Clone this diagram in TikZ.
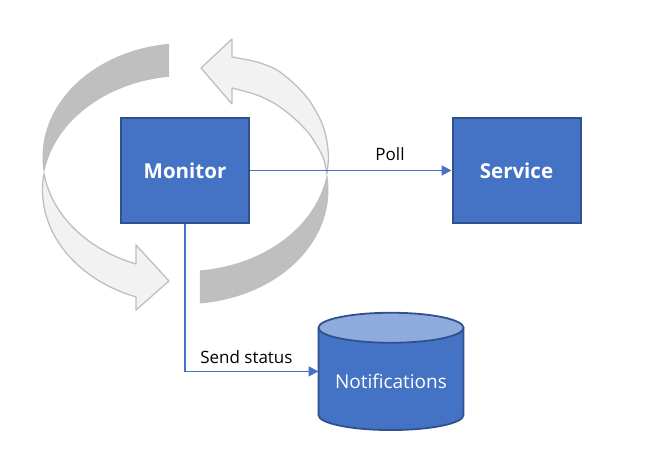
\documentclass[tikz,border=0pt]{standalone}
\usepackage{fontspec}
\setmainfont{Open Sans}
\usetikzlibrary{arrows.meta,calc}
\definecolor{boxblue}{HTML}{4472C4}
\definecolor{boxedge}{HTML}{2F528F}
\definecolor{toplight}{HTML}{8FAADC}
\definecolor{ringdark}{HTML}{BFBFBF}
\definecolor{ringlight}{HTML}{F2F2F2}
\definecolor{ringedge}{HTML}{BFBFBF}
\begin{document}
\begin{tikzpicture}[x=1pt,y=-1pt,
  box/.style={draw=boxedge, line width=2pt, fill=boxblue, minimum width=128pt, minimum height=105pt, inner sep=0pt, text=white, font=\fontsize{20.5}{24}\selectfont\bfseries},
  conn/.style={draw=boxblue, line width=1.8pt, -{Triangle[length=10pt,width=10pt]}},
  lbl/.style={font=\fontsize{17}{20}\selectfont, text=black, inner sep=0pt},
  ringd/.style={fill=ringdark},
  ringl/.style={fill=ringlight, draw=ringedge, line width=1.3pt, line join=round},
  cyltext/.style={text=white, inner sep=0pt, font=\fontsize{19}{23}\selectfont}]
\useasboundingbox (0,0) rectangle (649,471);
% ring: top-left (inner face, dark)
\fill[ringd] plot[domain=-96.6:-188.32, samples=60, variable=\t] ({185.5+143*cos(\t)},{157+114*sin(\t)})
  -- plot[domain=-171.68:-96.6, samples=60, variable=\t] ({185.5+143*cos(\t)},{190+114*sin(\t)}) -- cycle;
% ring: bottom-right (dark)
\fill[ringd] plot[domain=84.2:8.32, samples=60, variable=\t] ({185.5+143*cos(\t)},{157+114*sin(\t)})
  -- plot[domain=-8.32:84.2, samples=60, variable=\t] ({185.5+143*cos(\t)},{190+114*sin(\t)}) -- cycle;
% ring: bottom-left arrow (light)
\path[ringl] plot[domain=171.68:110.25, samples=60, variable=\t] ({185.5+143*cos(\t)},{157+114*sin(\t)})
  -- (136,245) -- (169,281) -- (136,310)
  -- plot[domain=110.25:188.32, samples=60, variable=\t] ({185.5+143*cos(\t)},{190+114*sin(\t)}) -- cycle;
% ring: top-right arrow (light)
\path[ringl] plot[smooth] coordinates {(326.9,173.5) (328.5,157) (326.3,138) (321,121) (309,100) (295,84.5) (277,70) (257,62) (232,57)}
  -- (232,39) -- (201,68) -- (232,104)
  -- plot[smooth] coordinates {(232,88) (257,95) (277,105) (295,119) (309.3,134) (320,151) (324,160) (326.9,173.5)} -- cycle;
% nodes
\node[box] (Monitor) at (185,170.5) {Monitor};
\node[box] (Service) at (516.5,170.5) {Service};
\node[minimum width=145pt, minimum height=117.3pt, inner sep=0pt, outer sep=0pt] (Notif) at (391,371.4) {};
\path[fill=boxblue, draw=boxedge, line width=1.8pt] ([yshift=-15pt]Notif.north west) -- ([yshift=15pt]Notif.south west)
  arc[start angle=180, end angle=360, x radius=72.5pt, y radius=15pt] -- ([yshift=-15pt]Notif.north east);
\path[fill=toplight, draw=boxedge, line width=1.8pt] ([yshift=-15pt]Notif.north) ellipse [x radius=72.5pt, y radius=15pt];
\node[cyltext] (notifTxt) at ([yshift=-9.5pt]Notif.center) {Notifications};
% connectors
\draw[conn] (Monitor) -- node[lbl, pos=0.695, anchor=base, yshift=10.5pt] (pollLbl) {Poll} (Service);
\draw[conn] (Monitor.south) |- node[lbl, pos=0.73, anchor=base, yshift=8pt] (sendLbl) {Send status} (Notif.west);
\end{tikzpicture}
\end{document}
